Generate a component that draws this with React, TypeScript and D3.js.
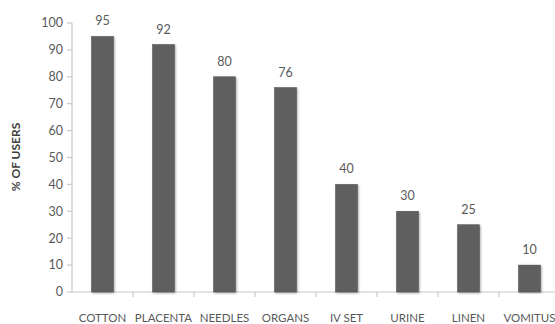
import React from "react";
import * as d3 from "d3";

const categories = ["COTTON", "PLACENTA", "NEEDLES", "ORGANS", "IV SET", "URINE", "LINEN", "VOMITUS"];
const values = [95, 92, 80, 76, 40, 30, 25, 10];
const yTicks = [0, 10, 20, 30, 40, 50, 60, 70, 80, 90, 100];
const yTitle = "% OF USERS";

export default function App() {
  const W = 555, H = 324;
  const x0 = 72, x1 = 560, y0 = 292, y1 = 23;
  const x = d3.scaleBand<string>().domain(categories).range([x0, x1]).paddingInner(0.64).paddingOuter(0.32);
  const y = d3.scaleLinear().domain([0, 100]).range([y0, y1]);
  const step = x.step();
  const font = "Lato, 'Open Sans', sans-serif";
  const gray = "#595959";
  return (
    <svg width={W} height={H} style={{ position: "absolute", left: 0, top: 0 }} fontFamily={font}>
      <defs>
        <filter id="sh" x="-20%" y="-5%" width="140%" height="110%">
          <feGaussianBlur in="SourceAlpha" stdDeviation="0.8" />
          <feOffset dx="0.5" dy="0.5" result="b" />
          <feComponentTransfer><feFuncA type="linear" slope="0.35" /></feComponentTransfer>
          <feMerge><feMergeNode /><feMergeNode in="SourceGraphic" /></feMerge>
        </filter>
      </defs>
      {/* y axis */}
      <line x1={x0} x2={x0} y1={y1} y2={y0} stroke="#c8c8c8" strokeWidth={1.2} />
      {yTicks.map((t) => (
        <g key={t}>
          <line x1={x0 - 5} x2={x0} y1={y(t)} y2={y(t)} stroke="#c8c8c8" strokeWidth={1.2} />
          <text x={x0 - 9} y={y(t)} dy="0.35em" textAnchor="end" fontSize={12.5} fill={gray}>{t}</text>
        </g>
      ))}
      {/* x axis */}
      <line x1={x0} x2={x1} y1={y0} y2={y0} stroke="#c8c8c8" strokeWidth={1.2} />
      {categories.map((c, i) => (
        <line key={c} x1={x0 + step * (i + 1)} x2={x0 + step * (i + 1)} y1={y0} y2={y0 + 5} stroke="#c8c8c8" strokeWidth={1.2} />
      ))}
      {categories.map((c, i) => (
        <g key={c}>
          <rect x={x(c)!} y={y(values[i])} width={x.bandwidth()} height={y0 - y(values[i])} fill="#5f5f5f" stroke="#4a4a4a" strokeWidth={0.5} filter="url(#sh)" />
          <text x={x(c)! + x.bandwidth() / 2} y={y(values[i]) - 11} textAnchor="middle" fontSize={12.5} fill={gray}>{values[i]}</text>
          <text x={x(c)! + x.bandwidth() / 2} y={322} textAnchor="middle" fontSize={11.5} fill={gray}>{c}</text>
        </g>
      ))}
      <text transform={`translate(20,157) rotate(-90)`} textAnchor="middle" fontSize={12} fontWeight="bold" fill="#404040">{yTitle}</text>
    </svg>
  );
}
